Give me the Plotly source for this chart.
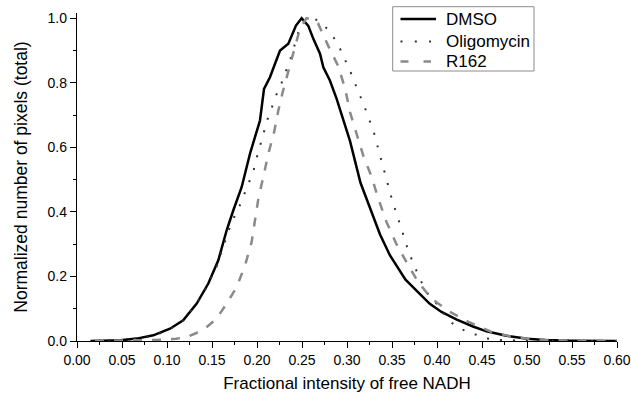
import plotly.graph_objects as go

# DMSO (solid black)
dmso_x = [0.015, 0.03, 0.048, 0.0663, 0.0848, 0.1033, 0.118, 0.133, 0.1459, 0.157, 0.1663, 0.1737,
          0.183, 0.1922, 0.2033, 0.2078, 0.2144, 0.22, 0.2256, 0.2348, 0.2433, 0.2496, 0.257, 0.2626,
          0.27, 0.2737, 0.281, 0.2885, 0.2996, 0.3033, 0.315, 0.3256, 0.3367, 0.3478, 0.365, 0.38,
          0.392, 0.405, 0.422, 0.44, 0.455, 0.477, 0.50, 0.52, 0.55, 0.60]
dmso_y = [0.0, 0.001, 0.002, 0.0074, 0.0176, 0.038, 0.064, 0.116, 0.178, 0.25, 0.343, 0.405,
          0.477, 0.58, 0.683, 0.781, 0.817, 0.859, 0.90, 0.921, 0.977, 1.0, 0.976, 0.936,
          0.89, 0.848, 0.807, 0.75, 0.65, 0.62, 0.49, 0.41, 0.33, 0.265, 0.19, 0.148,
          0.115, 0.09, 0.066, 0.045, 0.03, 0.016, 0.007, 0.003, 0.001, 0.0]

# Oligomycin (dotted)
oligo_x = [0.02, 0.05, 0.075, 0.10, 0.12, 0.14, 0.155, 0.165, 0.172, 0.179, 0.1848, 0.1904, 0.1959,
           0.1996, 0.204, 0.2078, 0.2115, 0.2174, 0.222, 0.2274, 0.2385, 0.247, 0.255, 0.262, 0.27,
           0.2804, 0.290, 0.296, 0.3026, 0.3078, 0.3137, 0.3193, 0.3248, 0.33, 0.3337, 0.3378, 0.342,
           0.346, 0.3497, 0.3589, 0.3633, 0.368, 0.3737, 0.380, 0.3867, 0.396, 0.403, 0.4126, 0.4256,
           0.44, 0.455, 0.47, 0.50, 0.60]
oligo_y = [0.0, 0.003, 0.01, 0.03, 0.068, 0.145, 0.23, 0.31, 0.37, 0.407, 0.446, 0.484, 0.525,
           0.567, 0.608, 0.647, 0.685, 0.73, 0.766, 0.80, 0.885, 0.967, 0.993, 1.0, 0.99,
           0.96, 0.92, 0.881, 0.843, 0.805, 0.766, 0.727, 0.685, 0.645, 0.606, 0.565, 0.523,
           0.482, 0.441, 0.361, 0.322, 0.281, 0.24, 0.198, 0.157, 0.126, 0.105, 0.064, 0.038,
           0.023, 0.008, 0.003, 0.001, 0.0]

# R162 (dashed grey)
r162_x = [0.02, 0.05, 0.08, 0.0996, 0.11, 0.122, 0.132, 0.142, 0.155, 0.1663, 0.1774, 0.1867, 0.194,
          0.198, 0.2015, 0.207, 0.2126, 0.219, 0.2237, 0.229, 0.236, 0.242, 0.248, 0.255, 0.262, 0.268,
          0.279, 0.290, 0.298, 0.3033, 0.311, 0.318, 0.3274, 0.3348, 0.344, 0.355, 0.366, 0.379,
          0.394, 0.4126, 0.435, 0.4607, 0.485, 0.51, 0.55, 0.60]
r162_y = [0.0, 0.001, 0.002, 0.004, 0.007, 0.0124, 0.024, 0.038, 0.069, 0.116, 0.167, 0.234, 0.306,
          0.379, 0.441, 0.508, 0.58, 0.647, 0.714, 0.776, 0.85, 0.915, 0.97, 1.0, 0.995, 0.983,
          0.915, 0.853, 0.781, 0.709, 0.642, 0.575, 0.508, 0.441, 0.368, 0.30, 0.245, 0.183,
          0.131, 0.093, 0.059, 0.028, 0.0124, 0.004, 0.001, 0.0]

series_names = ["DMSO", "Oligomycin", "R162"]
x_ticks = [0.00, 0.05, 0.10, 0.15, 0.20, 0.25, 0.30, 0.35, 0.40, 0.45, 0.50, 0.55, 0.60]
y_ticks = [0.0, 0.2, 0.4, 0.6, 0.8, 1.0]

FONT = "Liberation Sans, Arial, sans-serif"
styles = [
    dict(color="black", width=2.5, dash="solid"),
    dict(color="#333333", width=2, dash="2px,11px"),
    dict(color="#8a8a8a", width=2.5, dash="9px,10px"),
]

fig = go.Figure()
for nm, xs, ys, st in zip(series_names, [dmso_x, oligo_x, r162_x], [dmso_y, oligo_y, r162_y], styles):
    fig.add_trace(go.Scatter(x=xs, y=ys, mode="lines", name=nm, line=st, showlegend=False))

# Hand-placed legend (box, samples, real text labels)
M_L, M_R, M_T, M_B, W, H = 77, 14, 13, 54, 631, 395
PW, PH = W - M_L - M_R, H - M_T - M_B
def px(x):
    return (x - M_L) / PW
def py(y):
    return (H - M_B - y) / PH

fig.add_shape(type="rect", xref="paper", yref="paper",
              x0=px(392.7), x1=px(534), y0=py(71), y1=py(6.7),
              line=dict(color="#8c8c8c", width=1), fillcolor="white", layer="above")
legend_rows = [19, 41.5, 61.5]
sample_styles = [
    dict(color="black", width=2.5, dash="solid"),
    dict(color="#333333", width=2, dash="2px,12.3px"),
    dict(color="#8a8a8a", width=2.5, dash="8px,15px"),
]
sample_ends = [436, 431, 431]
for nm, yr, st, xe in zip(series_names, legend_rows, sample_styles, sample_ends):
    fig.add_shape(type="line", xref="paper", yref="paper",
                  x0=px(400.5), x1=px(xe), y0=py(yr), y1=py(yr), line=st, layer="above")
    fig.add_annotation(text=nm, xref="paper", yref="paper", x=px(443.5), y=py(yr),
                       xanchor="left", yanchor="middle", showarrow=False,
                       font=dict(family=FONT, size=17, color="black"))

fig.update_layout(
    width=W, height=H,
    margin=dict(l=M_L, r=M_R, t=M_T, b=M_B, autoexpand=False),
    paper_bgcolor="white", plot_bgcolor="white",
    font=dict(family=FONT, size=14, color="black"),
    showlegend=False,
)
fig.update_xaxes(
    range=[0, 0.6], tickvals=x_ticks, tickformat=".2f", automargin=False,
    showline=True, linecolor="black", linewidth=1.3, mirror=False,
    ticks="outside", ticklen=6, tickwidth=1.3, tickcolor="black",
    minor=dict(dtick=0.025, ticks="outside", ticklen=3, tickwidth=1.2, tickcolor="black", showgrid=False),
    showgrid=False, zeroline=False,
    tickfont=dict(family=FONT, size=14),
    title=dict(text="Fractional intensity of free NADH", font=dict(family=FONT, size=17), standoff=10),
)
fig.update_yaxes(
    range=[0, 1.016], tickvals=y_ticks, tickformat=".1f", automargin=False,
    showline=True, linecolor="black", linewidth=1.3, mirror=False,
    ticks="outside", ticklen=6, tickwidth=1.3, tickcolor="black",
    minor=dict(dtick=0.1, ticks="outside", ticklen=3, tickwidth=1.2, tickcolor="black", showgrid=False),
    showgrid=False, zeroline=False,
    tickfont=dict(family=FONT, size=14),
    title=dict(text="Normalized number of pixels (total)", font=dict(family=FONT, size=17.5), standoff=15),
)

fig.write_html("out.html")
